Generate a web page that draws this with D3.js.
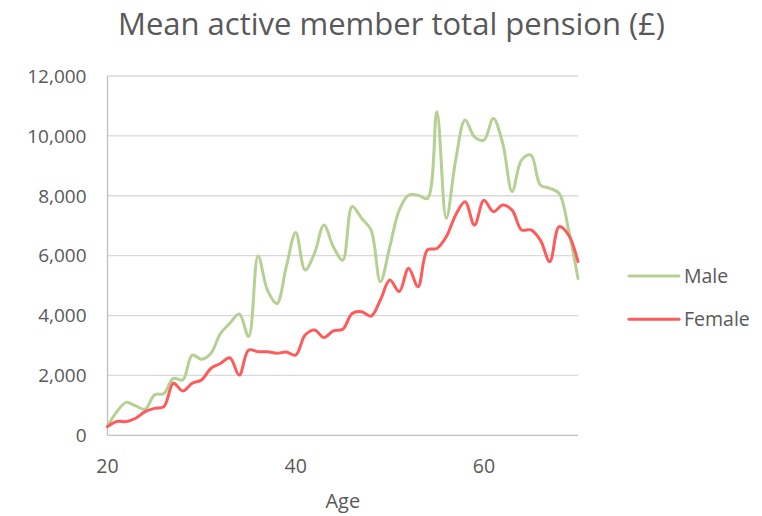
<!DOCTYPE html>
<html><head><meta charset="utf-8">
<script src="https://cdn.jsdelivr.net/npm/d3@7"></script>
<style>body{margin:0;background:#fff}svg{display:block}text{font-family:"Open Sans",Lato,sans-serif;fill:#595959}</style>
</head><body>
<svg id="c" width="762" height="516"></svg>
<script>
const ages = d3.range(20, 71);
const maleValues = [300,790,1100,980,870,1350,1400,1900,1850,2680,2540,2740,3400,3740,4050,3300,5990,4850,4400,5630,6770,5520,6080,7020,6300,5850,7640,7250,6860,5130,6300,7520,8020,8020,7910,10810,7250,9190,10530,9970,9860,10580,9750,8140,9190,9360,8360,8250,8080,6860,5240];
const femaleValues = [290,460,460,570,790,900,960,1740,1480,1740,1850,2240,2400,2590,2010,2850,2790,2790,2740,2780,2680,3350,3520,3270,3490,3540,4070,4130,3980,4520,5190,4800,5580,4960,6190,6240,6630,7360,7800,7020,7850,7470,7690,7520,6860,6860,6520,5800,6970,6690,5800];
const yTicks = [0,2000,4000,6000,8000,10000,12000];
const xTicks = [20,40,60];
const seriesNames = ["Male","Female"];
const seriesColors = ["#b5d092","#ff5b5b"];
const title = "Mean active member total pension (£)";
const xTitle = "Age";

const svg = d3.select("#c");
const x = d3.scaleLinear().domain([20,70]).range([107.5,578]);
const y = d3.scaleLinear().domain([0,12000]).range([435.3,76]);

svg.append("g").selectAll("line").data(yTicks.filter(d=>d>0)).join("line")
  .attr("x1",x(20)).attr("x2",x(70)).attr("y1",d=>y(d)).attr("y2",d=>y(d))
  .attr("stroke","#d9d9d9").attr("stroke-width",1.3);

svg.append("line").attr("x1",x(20)).attr("x2",x(20)).attr("y1",y(12000)).attr("y2",y(0)).attr("stroke","#bfbfbf").attr("stroke-width",1.3);
svg.append("line").attr("x1",x(20)).attr("x2",x(70)).attr("y1",y(0)).attr("y2",y(0)).attr("stroke","#bfbfbf").attr("stroke-width",1.3);

const fmt = d3.format(",");
svg.append("g").selectAll("text").data(yTicks).join("text")
  .attr("x",86.5).attr("y",d=>y(d)).attr("dy","0.36em").attr("text-anchor","end")
  .attr("font-size",19).text(d=>fmt(d));
svg.append("g").selectAll("text").data(xTicks).join("text")
  .attr("x",d=>x(d)).attr("y",472.5).attr("text-anchor","middle")
  .attr("font-size",19.5).text(d=>d);

svg.append("text").attr("x",(x(20)+x(70))/2).attr("y",508).attr("text-anchor","middle").attr("font-size",20).text(xTitle);
svg.append("text").attr("x",391.5).attr("y",35).attr("text-anchor","middle").attr("font-size",31).text(title);

const line = d3.line().x((d,i)=>x(ages[i])).y(d=>y(d)).curve(d3.curveCatmullRom.alpha(0.5));
[maleValues,femaleValues].forEach((vals,k)=>{
  svg.append("path").attr("d",line(vals)).attr("fill","none").attr("stroke",seriesColors[k]).attr("stroke-width",3).attr("stroke-linejoin","round").attr("stroke-linecap","round");
});

const lg = svg.append("g");
seriesNames.forEach((n,k)=>{
  const ly = 276 + k*43.3;
  lg.append("line").attr("x1",629).attr("x2",679).attr("y1",ly).attr("y2",ly).attr("stroke",seriesColors[k]).attr("stroke-width",3).attr("stroke-linecap","round");
  lg.append("text").attr("x",684).attr("y",ly+7).attr("font-size",19.5).text(n);
});
</script>
</body></html>
